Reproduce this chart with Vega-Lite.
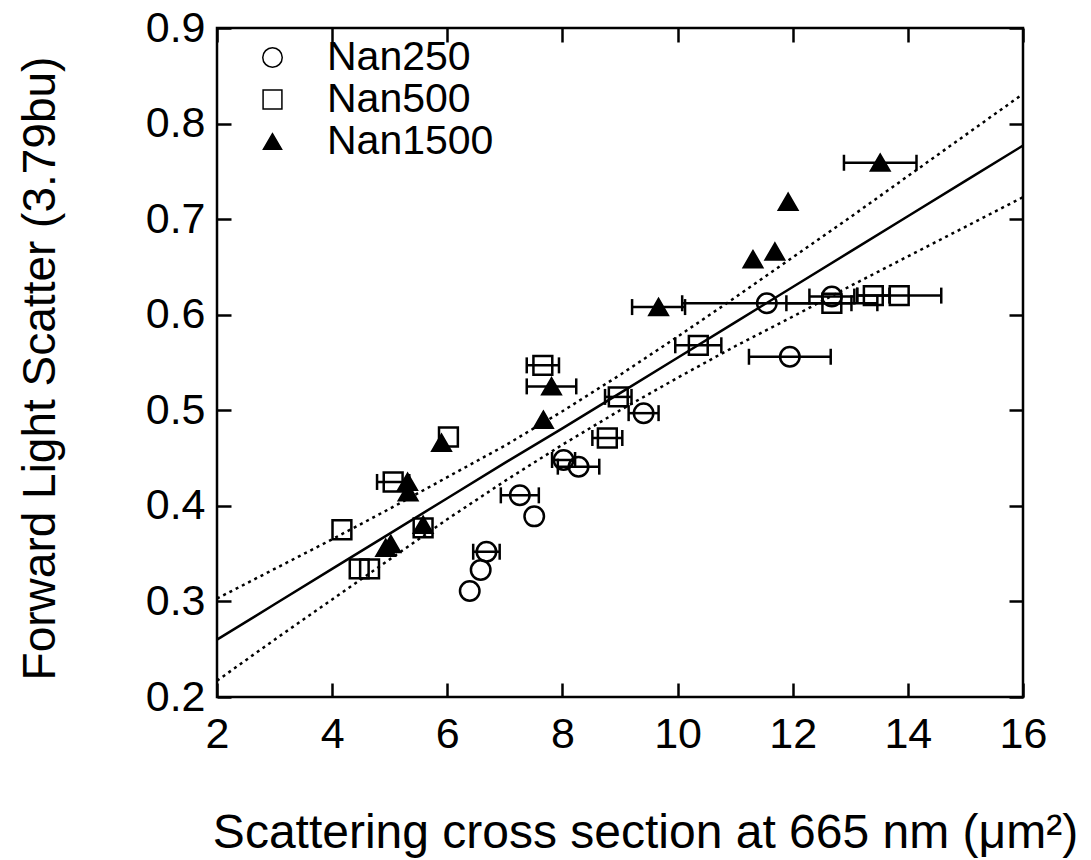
{
  "$schema": "https://vega.github.io/schema/vega-lite/v6.json",
  "width": 806,
  "height": 669,
  "autosize": {"type": "none"},
  "padding": {"left": 217, "top": 28, "right": 68, "bottom": 163},
  "background": "white",
  "config": {
    "view": {"stroke": "black", "strokeWidth": 2.5},
    "font": "Liberation Sans",
    "axis": {"labelFont": "Liberation Sans", "titleFont": "Liberation Sans", "labelColor": "black", "titleColor": "black", "tickColor": "black", "grid": false, "domain": false, "titleFontWeight": "normal"},
    "legend": {"labelFont": "Liberation Sans", "labelFontSize": 41, "labelColor": "black", "labelLimit": 400, "rowPadding": 0, "labelOffset": 34, "padding": 0}
  },
  "datasets": {
    "pts": [
      {"s": "Nan250", "x": 6.39, "y": 0.311},
      {"s": "Nan250", "x": 6.58, "y": 0.333},
      {"s": "Nan250", "x": 6.68, "y": 0.352},
      {"s": "Nan250", "x": 7.51, "y": 0.389},
      {"s": "Nan250", "x": 7.26, "y": 0.411},
      {"s": "Nan250", "x": 8.02, "y": 0.448},
      {"s": "Nan250", "x": 8.28, "y": 0.441},
      {"s": "Nan250", "x": 9.41, "y": 0.497},
      {"s": "Nan250", "x": 11.55, "y": 0.612},
      {"s": "Nan250", "x": 11.95, "y": 0.556},
      {"s": "Nan250", "x": 12.68, "y": 0.619},
      {"s": "Nan500", "x": 4.17, "y": 0.375},
      {"s": "Nan500", "x": 4.47, "y": 0.334},
      {"s": "Nan500", "x": 4.65, "y": 0.334},
      {"s": "Nan500", "x": 5.06, "y": 0.425},
      {"s": "Nan500", "x": 6.02, "y": 0.472},
      {"s": "Nan500", "x": 5.58, "y": 0.377},
      {"s": "Nan500", "x": 7.66, "y": 0.547},
      {"s": "Nan500", "x": 8.78, "y": 0.471},
      {"s": "Nan500", "x": 8.97, "y": 0.514},
      {"s": "Nan500", "x": 10.36, "y": 0.568},
      {"s": "Nan500", "x": 12.68, "y": 0.612},
      {"s": "Nan500", "x": 13.40, "y": 0.620},
      {"s": "Nan500", "x": 13.85, "y": 0.620},
      {"s": "Nan1500", "x": 4.93, "y": 0.356},
      {"s": "Nan1500", "x": 5.02, "y": 0.360},
      {"s": "Nan1500", "x": 5.31, "y": 0.425},
      {"s": "Nan1500", "x": 5.32, "y": 0.414},
      {"s": "Nan1500", "x": 5.58, "y": 0.380},
      {"s": "Nan1500", "x": 5.90, "y": 0.466},
      {"s": "Nan1500", "x": 7.67, "y": 0.490},
      {"s": "Nan1500", "x": 7.81, "y": 0.525},
      {"s": "Nan1500", "x": 9.67, "y": 0.608},
      {"s": "Nan1500", "x": 11.31, "y": 0.658},
      {"s": "Nan1500", "x": 11.69, "y": 0.666},
      {"s": "Nan1500", "x": 11.92, "y": 0.718},
      {"s": "Nan1500", "x": 13.52, "y": 0.759}
    ],
    "err": [
      {"s": "Nan250", "y": 0.352, "lo": 6.45, "hi": 6.91},
      {"s": "Nan250", "y": 0.411, "lo": 6.93, "hi": 7.59},
      {"s": "Nan250", "y": 0.448, "lo": 7.82, "hi": 8.22},
      {"s": "Nan250", "y": 0.441, "lo": 7.92, "hi": 8.64},
      {"s": "Nan250", "y": 0.497, "lo": 9.15, "hi": 9.67},
      {"s": "Nan250", "y": 0.612, "lo": 10.08, "hi": 13.02},
      {"s": "Nan250", "y": 0.556, "lo": 11.24, "hi": 12.66},
      {"s": "Nan250", "y": 0.619, "lo": 12.29, "hi": 13.07},
      {"s": "Nan500", "y": 0.425, "lo": 4.78, "hi": 5.34},
      {"s": "Nan500", "y": 0.547, "lo": 7.38, "hi": 7.94},
      {"s": "Nan500", "y": 0.471, "lo": 8.52, "hi": 9.04},
      {"s": "Nan500", "y": 0.514, "lo": 8.74, "hi": 9.20},
      {"s": "Nan500", "y": 0.568, "lo": 9.96, "hi": 10.76},
      {"s": "Nan500", "y": 0.612, "lo": 11.89, "hi": 13.47},
      {"s": "Nan500", "y": 0.620, "lo": 13.12, "hi": 13.68},
      {"s": "Nan500", "y": 0.620, "lo": 13.12, "hi": 14.58},
      {"s": "Nan1500", "y": 0.525, "lo": 7.38, "hi": 8.24},
      {"s": "Nan1500", "y": 0.608, "lo": 9.21, "hi": 10.13},
      {"s": "Nan1500", "y": 0.759, "lo": 12.89, "hi": 14.15}
    ],
    "fit": [
      {"x": 2, "y": 0.260, "lo": 0.217, "hi": 0.303},
      {"x": 3, "y": 0.297, "lo": 0.260, "hi": 0.334},
      {"x": 4, "y": 0.334, "lo": 0.302, "hi": 0.365},
      {"x": 5, "y": 0.371, "lo": 0.344, "hi": 0.397},
      {"x": 6, "y": 0.408, "lo": 0.386, "hi": 0.430},
      {"x": 7, "y": 0.445, "lo": 0.426, "hi": 0.463},
      {"x": 8, "y": 0.481, "lo": 0.464, "hi": 0.499},
      {"x": 9, "y": 0.518, "lo": 0.500, "hi": 0.537},
      {"x": 10, "y": 0.555, "lo": 0.534, "hi": 0.577},
      {"x": 11, "y": 0.592, "lo": 0.567, "hi": 0.618},
      {"x": 12, "y": 0.629, "lo": 0.598, "hi": 0.660},
      {"x": 13, "y": 0.666, "lo": 0.630, "hi": 0.702},
      {"x": 14, "y": 0.703, "lo": 0.661, "hi": 0.745},
      {"x": 15, "y": 0.740, "lo": 0.692, "hi": 0.788},
      {"x": 16, "y": 0.777, "lo": 0.723, "hi": 0.831}
    ]
  },
  "resolve": {"axis": {"x": "independent", "y": "independent"}},
  "layer": [
    {
      "data": {"name": "fit"},
      "mark": {"type": "line", "stroke": "black", "strokeWidth": 2.5},
      "encoding": {
        "x": {"field": "x", "type": "quantitative", "scale": {"domain": [2, 16], "nice": false, "zero": false},
          "axis": {"orient": "bottom", "values": [2, 4, 6, 8, 10, 12, 14, 16], "tickSize": -14, "tickWidth": 2.5, "labelFontSize": 43, "labelPadding": 30, "labelFlush": false,
            "title": "Scattering cross section at 665 nm (μm²)", "titleFontSize": 48, "titleX": 428, "titleY": 150, "titleBaseline": "alphabetic", "titleAlign": "center"}},
        "y": {"field": "y", "type": "quantitative", "scale": {"domain": [0.2, 0.9], "nice": false, "zero": false},
          "axis": {"orient": "left", "values": [0.2, 0.3, 0.4, 0.5, 0.6, 0.7, 0.8, 0.9], "format": ".1f", "tickSize": -14, "tickWidth": 2.5, "labelFontSize": 43, "labelPadding": 26, "labelFlush": false,
            "title": "Forward Light Scatter (3.79bu)", "titleFontSize": 46, "titleX": -153, "titleY": 340, "titleAlign": "center", "titleAngle": -90, "titleBaseline": "bottom"}}
      }
    },
    {
      "data": {"name": "fit"},
      "mark": {"type": "line", "stroke": "black", "strokeWidth": 2.5, "strokeDash": [3, 4]},
      "encoding": {
        "x": {"field": "x", "type": "quantitative", "scale": {"domain": [2, 16], "nice": false, "zero": false}, "axis": null},
        "y": {"field": "hi", "type": "quantitative", "scale": {"domain": [0.2, 0.9], "nice": false, "zero": false}, "axis": null}
      }
    },
    {
      "data": {"name": "fit"},
      "mark": {"type": "line", "stroke": "black", "strokeWidth": 2.5, "strokeDash": [3, 4]},
      "encoding": {
        "x": {"field": "x", "type": "quantitative", "scale": {"domain": [2, 16], "nice": false, "zero": false}, "axis": null},
        "y": {"field": "lo", "type": "quantitative", "scale": {"domain": [0.2, 0.9], "nice": false, "zero": false}, "axis": null}
      }
    },
    {
      "data": {"name": "err"},
      "mark": {"type": "rule", "stroke": "black", "strokeWidth": 2.5},
      "encoding": {
        "x": {"field": "lo", "type": "quantitative", "scale": {"domain": [2, 16], "nice": false, "zero": false},
          "axis": {"orient": "top", "values": [2, 4, 6, 8, 10, 12, 14, 16], "tickSize": -14, "tickWidth": 2.5, "labels": false, "title": null}},
        "x2": {"field": "hi"},
        "y": {"field": "y", "type": "quantitative", "scale": {"domain": [0.2, 0.9], "nice": false, "zero": false},
          "axis": {"orient": "right", "values": [0.2, 0.3, 0.4, 0.5, 0.6, 0.7, 0.8, 0.9], "tickSize": -14, "tickWidth": 2.5, "labels": false, "title": null}}
      }
    },
    {
      "data": {"name": "err"},
      "mark": {"type": "tick", "orient": "vertical", "color": "black", "thickness": 2.5, "size": 16, "opacity": 1},
      "encoding": {
        "x": {"field": "lo", "type": "quantitative", "scale": {"domain": [2, 16], "nice": false, "zero": false}, "axis": null},
        "y": {"field": "y", "type": "quantitative", "scale": {"domain": [0.2, 0.9], "nice": false, "zero": false}, "axis": null}
      }
    },
    {
      "data": {"name": "err"},
      "mark": {"type": "tick", "orient": "vertical", "color": "black", "thickness": 2.5, "size": 16, "opacity": 1},
      "encoding": {
        "x": {"field": "hi", "type": "quantitative", "scale": {"domain": [2, 16], "nice": false, "zero": false}, "axis": null},
        "y": {"field": "y", "type": "quantitative", "scale": {"domain": [0.2, 0.9], "nice": false, "zero": false}, "axis": null}
      }
    },
    {
      "data": {"name": "pts"},
      "mark": {"type": "point", "filled": true, "stroke": "black", "strokeWidth": 2.5, "opacity": 1},
      "encoding": {
        "x": {"field": "x", "type": "quantitative", "scale": {"domain": [2, 16], "nice": false, "zero": false}, "axis": null},
        "y": {"field": "y", "type": "quantitative", "scale": {"domain": [0.2, 0.9], "nice": false, "zero": false}, "axis": null},
        "shape": {"field": "s", "type": "nominal", "scale": {"domain": ["Nan250", "Nan500", "Nan1500"], "range": ["circle", "square", "triangle-up"]},
          "legend": {"orient": "none", "legendX": 35, "legendY": 9, "title": null,
            "encode": {"symbols": {"update": {"stroke": {"value": "black"}, "strokeWidth": {"value": 2.5}, "opacity": {"value": 1}}}}}},
        "fill": {"field": "s", "type": "nominal", "scale": {"domain": ["Nan250", "Nan500", "Nan1500"], "range": ["transparent", "transparent", "black"]},
          "legend": {"orient": "none", "legendX": 35, "legendY": 9, "title": null,
            "encode": {"symbols": {"update": {"stroke": {"value": "black"}, "strokeWidth": {"value": 2.5}, "opacity": {"value": 1}}}}}},
        "size": {"field": "s", "type": "nominal", "scale": {"domain": ["Nan250", "Nan500", "Nan1500"], "range": [380, 330, 530]},
          "legend": {"orient": "none", "legendX": 35, "legendY": 9, "title": null,
            "encode": {"symbols": {"update": {"stroke": {"value": "black"}, "strokeWidth": {"value": 2.5}, "opacity": {"value": 1}}}}}}
      }
    }
  ]
}
